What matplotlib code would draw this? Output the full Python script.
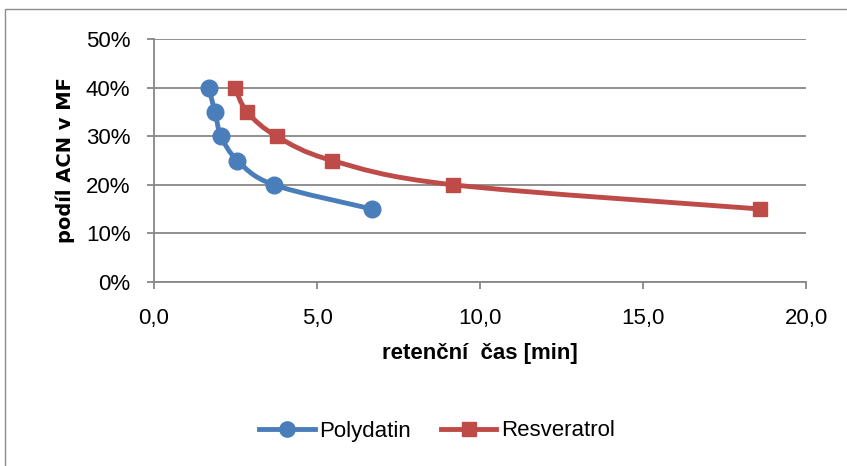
import matplotlib.pyplot as plt
import numpy as np
from matplotlib.lines import Line2D
from matplotlib.patches import PathPatch, Rectangle
from matplotlib.path import Path
from matplotlib.ticker import FuncFormatter, MultipleLocator

# retention time [min] vs. ACN fraction in mobile phase
polydatin_time = [1.68, 1.87, 2.06, 2.56, 3.67, 6.68]
polydatin_acn = [0.40, 0.35, 0.30, 0.25, 0.20, 0.15]
resveratrol_time = [2.48, 2.86, 3.76, 5.46, 9.16, 18.59]
resveratrol_acn = [0.40, 0.35, 0.30, 0.25, 0.20, 0.15]

BLUE = "#4A7EBB"
RED = "#BE4B48"
GRID = "#878787"

plt.rcParams["font.family"] = ["Liberation Sans", "DejaVu Sans"]


def smooth_path(x, y):
    """Excel-style smoothed line: Catmull-Rom segments as cubic Beziers."""
    pts = np.column_stack([x, y])
    ext = np.vstack([pts[0], pts, pts[-1]])
    verts = [pts[0]]
    codes = [Path.MOVETO]
    for i in range(len(pts) - 1):
        p0, p1, p2, p3 = ext[i], ext[i + 1], ext[i + 2], ext[i + 3]
        verts += [p1 + (p2 - p0) / 6, p2 - (p3 - p1) / 6, p2]
        codes += [Path.CURVE4] * 3
    return Path(verts, codes)


def draw_series(ax, x, y, color, marker, size):
    ax.add_patch(PathPatch(smooth_path(x, y), facecolor="none", edgecolor=color,
                           linewidth=3.5, capstyle="round", joinstyle="round", zorder=3))
    ax.plot(x, y, linestyle="none", marker=marker, markersize=size,
            markerfacecolor=color, markeredgecolor=color, zorder=4)


fig = plt.figure(figsize=(8.47, 4.66), dpi=100)
fig.patches.append(Rectangle((5 / 847, -0.1), 1.2, 1.1 - 9 / 466, transform=fig.transFigure,
                             facecolor="white", edgecolor="#8c8c8c", linewidth=1.0, zorder=-1))
ax = fig.add_axes([154 / 847, 1 - 281.7 / 466, (806 - 154) / 847, (281.7 - 39.3) / 466])

draw_series(ax, polydatin_time, polydatin_acn, BLUE, "o", 12)
draw_series(ax, resveratrol_time, resveratrol_acn, RED, "s", 10)

ax.set_xlim(0, 20)
ax.set_ylim(0, 0.5)
ax.xaxis.set_major_locator(MultipleLocator(5))
ax.yaxis.set_major_locator(MultipleLocator(0.1))
ax.xaxis.set_major_formatter(FuncFormatter(lambda v, _: f"{v:.1f}".replace(".", ",")))
ax.yaxis.set_major_formatter(FuncFormatter(lambda v, _: f"{v * 100:.0f}%"))

ax.grid(axis="y", color=GRID, linewidth=1.3)
ax.set_axisbelow(True)
for side in ("top", "right"):
    ax.spines[side].set_visible(False)
for side in ("left", "bottom"):
    ax.spines[side].set_color(GRID)
    ax.spines[side].set_linewidth(1.3)
ax.tick_params(axis="both", direction="out", length=5, width=1.3, color=GRID,
               labelsize=16, labelcolor="black")
ax.tick_params(axis="y", pad=12)
ax.tick_params(axis="x", pad=14)

ax.set_xlabel("retenční  čas [min]", fontsize=16, fontweight="bold", labelpad=10)
ax.set_ylabel("podíl ACN v MF", fontsize=14, fontweight="bold", labelpad=7.5,
              family="DejaVu Sans")

handles = [
    Line2D([], [], color=BLUE, linewidth=3.5, marker="o", markersize=11),
    Line2D([], [], color=RED, linewidth=3.5, marker="s", markersize=10),
]
fig.legend(handles, ["Polydatin", "Resveratrol"], loc="center",
           bbox_to_anchor=(437 / 847, 1 - 431 / 466), ncol=2, frameon=False,
           fontsize=16, handlelength=2.5, handletextpad=0.2, columnspacing=1.35)

fig.savefig("out.png", dpi=100)
